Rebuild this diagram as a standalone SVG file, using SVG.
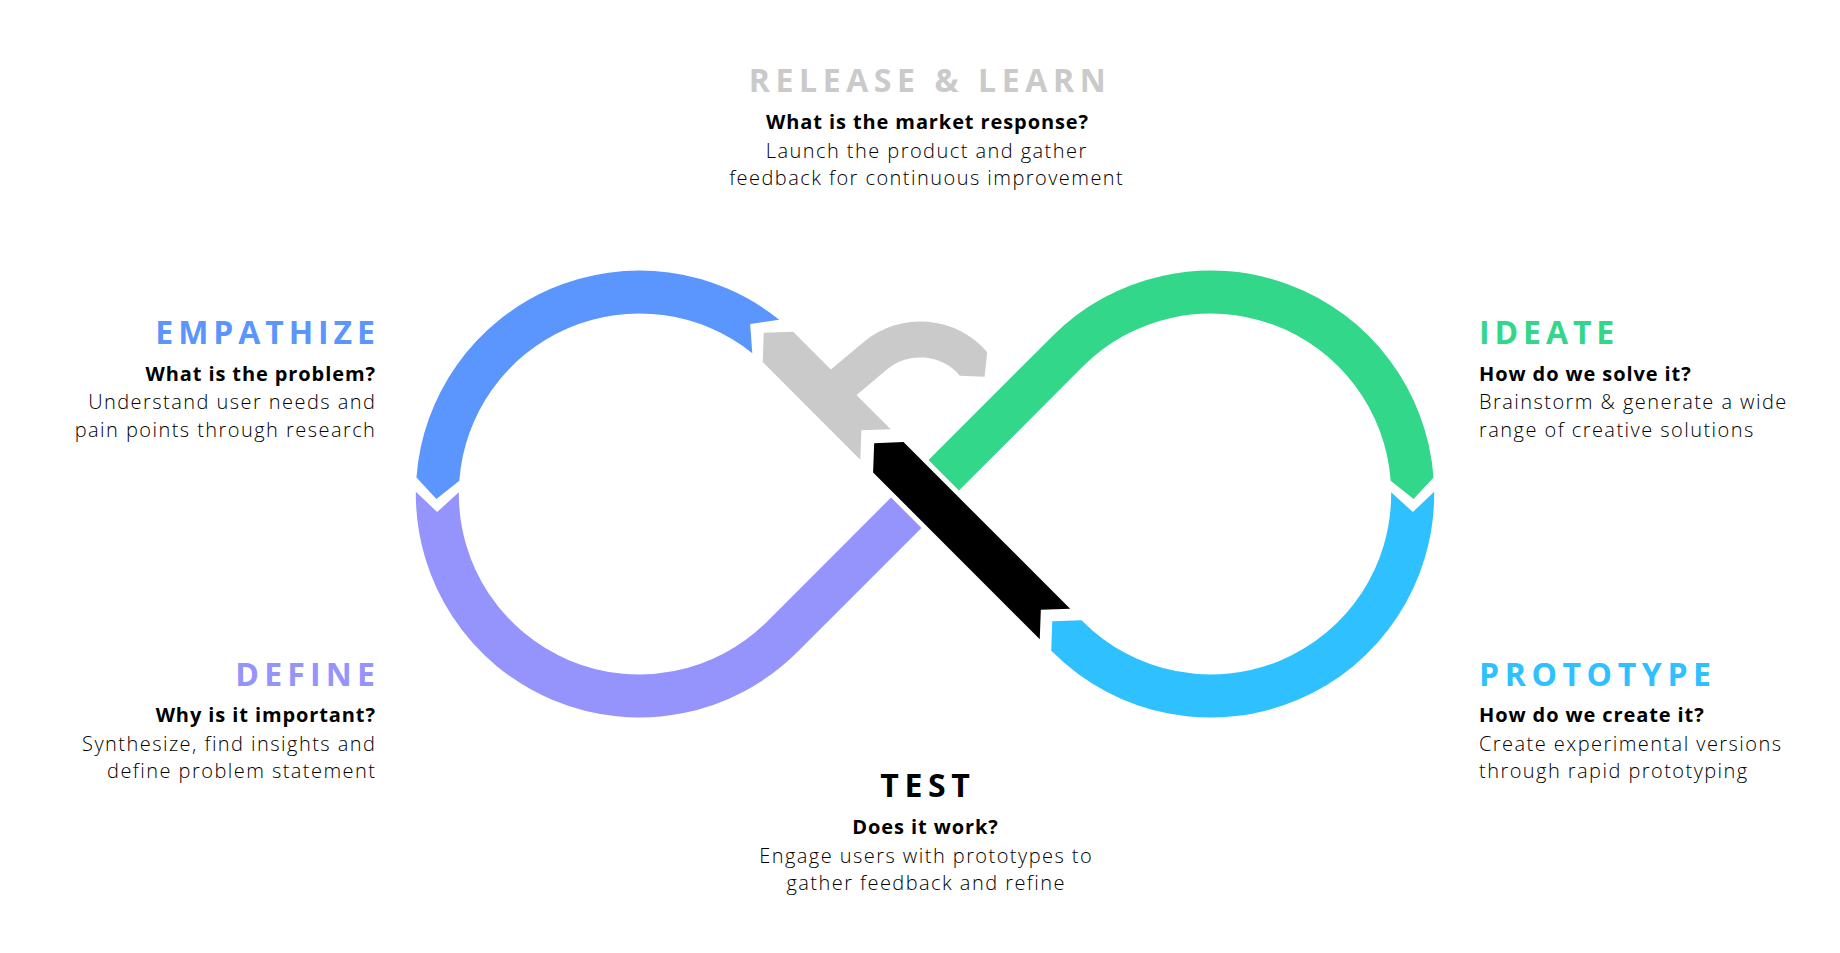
<svg xmlns="http://www.w3.org/2000/svg" width="1840" height="953" viewBox="0 0 1840 953">
<style>
.t{font-family:"Open Sans","Liberation Sans",sans-serif;font-weight:700;font-size:32px;letter-spacing:5.6px}
.q{font-family:"Open Sans","Liberation Sans",sans-serif;font-weight:700;font-size:20px;letter-spacing:0.9px;fill:#000}
.b{font-family:"Open Sans","Liberation Sans",sans-serif;font-weight:300;font-size:20px;letter-spacing:1.45px;fill:#000}
.e{text-anchor:end}.m{text-anchor:middle}
.seg{stroke:none}
</style>
<rect width="1840" height="953" fill="#fff"/>
<g id="loop">
<path id="seg-define" class="seg" fill="#9494FC" d="M 415.84 491.82 A 223.5 223.5 0 0 0 797.37 652.04 L 940.2 509.2 L 909.8 478.8 L 766.96 621.63 A 180.5 180.5 0 0 1 458.84 492.24 L 437.14 512.03 Z"/>
<path id="seg-ideate" class="seg" fill="#33D78A" d="M 909.8 478.8 L 1052.63 335.96 A 223.5 223.5 0 0 1 1433.56 477.47 L 1413.6 499 L 1390.67 480.65 A 180.5 180.5 0 0 0 1083.04 366.37 L 940.2 509.2 Z"/>
<path id="seg-test" fill="#000" stroke="#fff" stroke-width="10" stroke-linejoin="miter" paint-order="stroke" d="M 1070.17 608.77 L 903.5 442.1 L 874.16 443.16 L 873.1 472.5 L 1039.77 639.17 L 1040.83 609.83 Z"/>
<path id="seg-prototype" class="seg" fill="#2EC0FF" d="M 1434.16 491.82 A 223.5 223.5 0 0 1 1052.63 652.04 L 1051.22 650.63 L 1052.28 621.29 L 1081.63 620.22 L 1083.04 621.63 A 180.5 180.5 0 0 0 1391.16 492.24 L 1412.86 512.03 Z"/>
<path id="seg-release" class="seg" fill="#CACACA" d="M 890.7 429.3 L 793.12 331.72 L 763.78 332.78 L 762.72 362.12 L 860.3 459.7 L 861.36 430.36 Z"/>
<path id="seg-release-curl" class="seg" fill="#CACACA" d="M 813.86 383.85 L 863.73 341.99 A 88 88 0 0 1 987.22 352.25 L 984.57 376.87 L 959.84 375.63 A 52 52 0 0 0 886.87 369.57 L 839.41 409.41 Z"/>
<path id="seg-empathize" class="seg" fill="#5B96FE" d="M 779.22 319.69 A 223.5 223.5 0 0 0 416.44 477.48 L 436.4 499 L 459.32 480.66 A 180.5 180.5 0 0 1 752.3 353.23 L 750.16 323.94 Z"/>
</g>
<g id="release">
<text class="t m" x="930" y="92" fill="#CACACA">RELEASE &amp; LEARN</text>
<text class="q m" x="927.5" y="129">What is the market response?</text>
<text class="b m" x="926.7" y="157.5">Launch the product and gather</text>
<text class="b m" x="926.7" y="185">feedback for continuous improvement</text>
</g>
<g id="empathize">
<text class="t e" x="379.8" y="344" fill="#5B96FE" style="letter-spacing:4.9px">EMPATHIZE</text>
<text class="q e" x="375.9" y="381">What is the problem?</text>
<text class="b e" x="376.4" y="409">Understand user needs and</text>
<text class="b e" x="376.4" y="436.5">pain points through research</text>
</g>
<g id="define">
<text class="t e" x="380.2" y="686" fill="#9494FC" style="letter-spacing:5.2px">DEFINE</text>
<text class="q e" x="375.9" y="722">Why is it important?</text>
<text class="b e" x="376.4" y="750.5">Synthesize, find insights and</text>
<text class="b e" x="376.4" y="778">define problem statement</text>
</g>
<g id="ideate">
<text class="t" x="1479" y="344" fill="#33D78A" style="letter-spacing:4.9px">IDEATE</text>
<text class="q" x="1479" y="381">How do we solve it?</text>
<text class="b" x="1479" y="409">Brainstorm &amp; generate a wide</text>
<text class="b" x="1479" y="436.5">range of creative solutions</text>
</g>
<g id="prototype">
<text class="t" x="1479" y="686" fill="#2EC0FF">PROTOTYPE</text>
<text class="q" x="1479" y="722">How do we create it?</text>
<text class="b" x="1479" y="750.5">Create experimental versions</text>
<text class="b" x="1479" y="778">through rapid prototyping</text>
</g>
<g id="test">
<text class="t m" x="927.8" y="797" fill="#000">TEST</text>
<text class="q m" x="925.5" y="834">Does it work?</text>
<text class="b m" x="926.2" y="863">Engage users with prototypes to</text>
<text class="b m" x="926.2" y="890">gather feedback and refine</text>
</g>
</svg>
